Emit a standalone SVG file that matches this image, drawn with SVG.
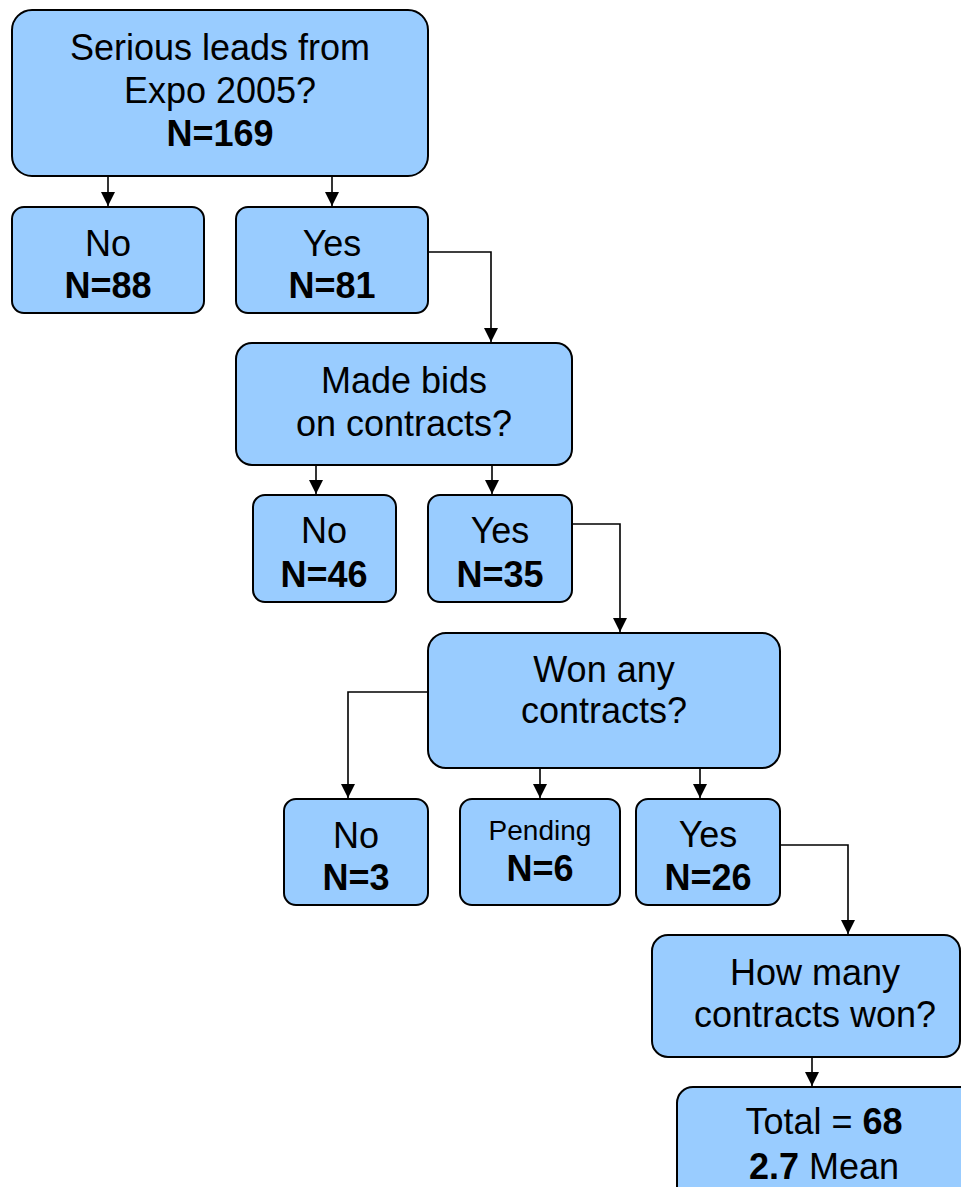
<svg xmlns="http://www.w3.org/2000/svg" width="961" height="1187" viewBox="0 0 961 1187">
<style>
.box{fill:#99CCFF;stroke:#000;stroke-width:2}
.t{font-family:"Liberation Sans",Arial,sans-serif;font-size:36px;fill:#000;text-anchor:middle}
.b{font-weight:bold}
.s{font-size:28px}
.c{fill:none;stroke:#000;stroke-width:1.6}
</style>
<defs>
<marker id="ah" markerWidth="14" markerHeight="14" refX="14" refY="7" orient="auto" markerUnits="userSpaceOnUse">
<path d="M0,0 L14,7 L0,14 Z" fill="#000"/>
</marker>
</defs>
<rect width="961" height="1187" fill="#fff"/>
<g id="connectors">
<path class="c" d="M108,177 V206" marker-end="url(#ah)"/>
<path class="c" d="M332,177 V206" marker-end="url(#ah)"/>
<path class="c" d="M428,252 H491 V342" marker-end="url(#ah)"/>
<path class="c" d="M316,466 V494" marker-end="url(#ah)"/>
<path class="c" d="M492,466 V494" marker-end="url(#ah)"/>
<path class="c" d="M572,524 H620 V632" marker-end="url(#ah)"/>
<path class="c" d="M428,692 H348 V798" marker-end="url(#ah)"/>
<path class="c" d="M540,769 V798" marker-end="url(#ah)"/>
<path class="c" d="M700,769 V798" marker-end="url(#ah)"/>
<path class="c" d="M780,845 H848 V934" marker-end="url(#ah)"/>
<path class="c" d="M812,1058 V1086" marker-end="url(#ah)"/>
</g>
<g id="q1">
<rect class="box" x="12" y="10" width="416" height="166" rx="20"/>
<text class="t" x="220" y="60">Serious leads from</text>
<text class="t" x="220" y="103">Expo 2005?</text>
<text class="t b" x="220" y="146">N=169</text>
</g>
<g id="no1">
<rect class="box" x="12" y="207" width="192" height="106" rx="12"/>
<text class="t" x="108" y="256">No</text>
<text class="t b" x="108" y="298">N=88</text>
</g>
<g id="yes1">
<rect class="box" x="236" y="207" width="192" height="106" rx="12"/>
<text class="t" x="332" y="256">Yes</text>
<text class="t b" x="332" y="298">N=81</text>
</g>
<g id="q2">
<rect class="box" x="236" y="343" width="336" height="122" rx="16"/>
<text class="t" x="404" y="393">Made bids</text>
<text class="t" x="404" y="436">on contracts?</text>
</g>
<g id="no2">
<rect class="box" x="253" y="495" width="143" height="107" rx="12"/>
<text class="t" x="324" y="543">No</text>
<text class="t b" x="324" y="587">N=46</text>
</g>
<g id="yes2">
<rect class="box" x="428" y="495" width="144" height="107" rx="12"/>
<text class="t" x="500" y="543">Yes</text>
<text class="t b" x="500" y="587">N=35</text>
</g>
<g id="q3">
<rect class="box" x="428" y="633" width="352" height="135" rx="18"/>
<text class="t" x="604" y="682">Won any</text>
<text class="t" x="604" y="723">contracts?</text>
</g>
<g id="no3">
<rect class="box" x="284" y="799" width="144" height="106" rx="12"/>
<text class="t" x="356" y="848">No</text>
<text class="t b" x="356" y="890">N=3</text>
</g>
<g id="pending">
<rect class="box" x="460" y="799" width="160" height="106" rx="12"/>
<text class="t s" x="540" y="840">Pending</text>
<text class="t b" x="540" y="881">N=6</text>
</g>
<g id="yes3">
<rect class="box" x="636" y="799" width="144" height="106" rx="12"/>
<text class="t" x="708" y="847">Yes</text>
<text class="t b" x="708" y="890">N=26</text>
</g>
<g id="q4">
<rect class="box" x="652" y="935" width="308" height="122" rx="16"/>
<text class="t" x="815" y="985">How many</text>
<text class="t" x="815" y="1027">contracts won?</text>
</g>
<g id="total">
<rect class="box" x="677" y="1087" width="310" height="130" rx="16"/>
<text class="t" x="824" y="1134">Total = <tspan class="b">68</tspan></text>
<text class="t" x="824" y="1179"><tspan class="b">2.7</tspan> Mean</text>
</g>
</svg>
